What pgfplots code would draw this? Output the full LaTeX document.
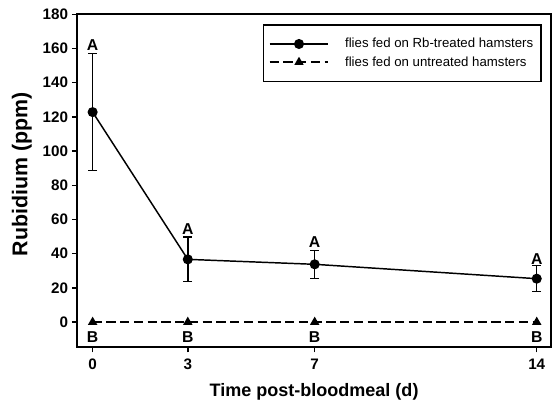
\documentclass[border=0pt]{standalone}
\usepackage{fontspec}
\setmainfont{Liberation Sans}
\usepackage{pgfplots}
\pgfplotsset{compat=1.18}

\begin{document}
\begin{tikzpicture}
% frame of the whole figure, axis box corner at (0,0)
\path[use as bounding box] (-57.75pt,-40.7pt) rectangle (357.25pt,260pt);
\begin{axis}[
    width=355pt, height=249.3pt,
    scale only axis,
    xmin=-0.49, xmax=14.45,
    ymin=-14.6, ymax=180,
    xtick={0,3,7,14},
    ytick={0,20,40,60,80,100,120,140,160,180},
    tick align=outside,
    tick pos=left,
    major tick length=4pt,
    axis line style={line width=1.3pt},
    tick style={line width=1.1pt, black},
    /pgf/number format/assume math mode=true,
    ticklabel style={font=\fontsize{11.4}{12}\selectfont\bfseries, inner sep=0pt},
    yticklabel style={xshift=-2.6pt},
    xticklabel style={yshift=-5pt},
    xlabel={Time post-bloodmeal (d)},
    ylabel={Rubidium (ppm)},
    xlabel style={font=\fontsize{13.5}{15}\selectfont\bfseries,
        at={([yshift=-33.5pt]rel axis cs:0.5,0)}, anchor=center},
    ylabel style={font=\fontsize{16}{18}\selectfont\bfseries,
        at={([xshift=-41.4pt,yshift=4.9pt]rel axis cs:0,0.5)}, anchor=center},
    legend style={at={([xshift=-6.75pt,yshift=-7.3pt]rel axis cs:1,1)},
        anchor=north east, draw=black,
        line width=1.2pt, font=\fontsize{9.9}{11}\selectfont,
        inner xsep=4pt, inner ysep=8pt, row sep=1pt},
    legend cell align=left,
    legend image code/.code={%
        \draw[mark repeat=2,mark phase=2,#1] plot coordinates {(0pt,0pt) (22pt,0pt) (44pt,0pt)};
        \path (54pt,0pt);},
]
\addplot[black, line width=1.1pt, mark=*, mark size=3.2pt,
    error bars/.cd, y dir=both, y explicit, error bar style={line width=1.1pt},
    error mark options={rotate=90, mark size=3.3pt, line width=1.1pt}]
    coordinates {
    (0,122.8) +- (34.8,34.2)
    (3,36.7) +- (13.3,13.1)
    (7,33.8) +- (8.8,8.2)
    (14,25.4) +- (7.0,7.6)
};
\addlegendentry{flies fed on Rb-treated hamsters}
\addplot[black, line width=1.1pt, dash pattern=on 7pt off 3.3pt,
    mark=triangle*, mark size=3pt, mark options={solid}]
    coordinates {(0,0) (3,0) (7,0) (14,0)};
\addlegendentry{flies fed on untreated hamsters}

\begin{scope}[every node/.style={font=\fontsize{11.8}{13}\selectfont\bfseries, inner sep=0pt}]
\node[anchor=base] at (axis cs:0,158.6) {A};
\node[anchor=base] at (axis cs:3,51) {A};
\node[anchor=base] at (axis cs:7,43.6) {A};
\node[anchor=base] at (axis cs:14,33.4) {A};
\node[anchor=north] at (axis cs:0,-5.3) {B};
\node[anchor=north] at (axis cs:3,-5.3) {B};
\node[anchor=north] at (axis cs:7,-5.3) {B};
\node[anchor=north] at (axis cs:14,-5.3) {B};
\end{scope}
\end{axis}
\end{tikzpicture}
\end{document}
